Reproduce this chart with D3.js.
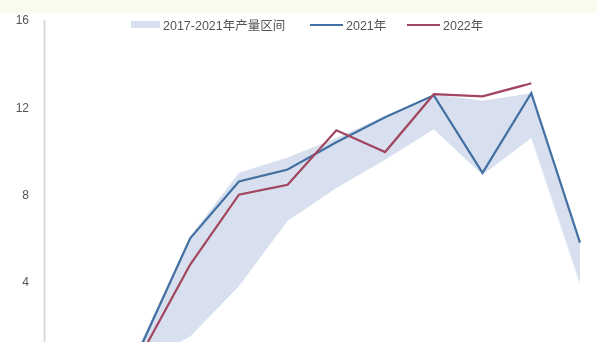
<!DOCTYPE html>
<html>
<head>
<meta charset="utf-8">
<script src="https://cdn.jsdelivr.net/npm/d3@7"></script>
<style>
  html, body { margin: 0; padding: 0; background: #fff; overflow: hidden; }
  svg { display: block; }
</style>
</head>
<body>
<svg id="chart" width="597" height="342"></svg>
<script>
// Months (category axis)
const months = ["1月","2月","3月","4月","5月","6月","7月","8月","9月","10月","11月","12月"];
// 2017-2021 range (min / max)
const rangeLow  = [0.4, 0.2, 0.3, 1.5, 3.8, 6.8, 8.3, 9.6, 11.0, 8.9, 10.6, 3.9];
const rangeHigh = [0.9, 0.6, 1.3, 6.1, 9.0, 9.7, 10.6, 11.6, 12.6, 12.3, 12.65, 5.85];
// Annual series
const y2021 = [0.8, 0.5, 1.1, 6.0, 8.6, 9.15, 10.4, 11.55, 12.55, 9.0, 12.65, 5.8];
const y2022 = [0.6, 0.4, 0.7, 4.8, 8.0, 8.45, 10.95, 9.95, 12.6, 12.5, 13.1];
const yTicks = [4, 8, 12, 16];
const legendLabels = ["2017-2021年产量区间", "2021年", "2022年"];

const svg = d3.select("#chart");
const W = 597;

const colBand = "#d8e0ef";
const col2021 = "#4270a2";
const col2022 = "#a2445e";
const textCol = "#555555";

const x = d3.scalePoint().domain(months).range([44, 580]);
const y = d3.scaleLinear().domain([0, 16]).range([369.3, 20]);

// faint tint along the top edge
svg.append("rect").attr("x", 0).attr("y", 0).attr("width", W).attr("height", 13)
  .attr("fill", "#fafbee");

const defs = svg.append("defs");
defs.append("filter").attr("id", "soft")
  .append("feGaussianBlur").attr("stdDeviation", 0.5);
const g = svg.append("g").attr("filter", "url(#soft)");

// range band
const band = months.map((m, i) => ({ m, lo: rangeLow[i], hi: rangeHigh[i] }));
g.append("path")
  .datum(band)
  .attr("fill", colBand)
  .attr("d", d3.area().x(d => x(d.m)).y0(d => y(d.lo)).y1(d => y(d.hi)));

// y axis
const yAxis = d3.axisLeft(y).tickValues(yTicks).tickSize(0).tickPadding(15).tickFormat(d3.format("d"));
const ya = g.append("g").attr("transform", `translate(${x(months[0])},0)`).call(yAxis);
ya.select(".domain").attr("stroke", "#d9d9d9").attr("stroke-width", 2);
ya.selectAll("text").attr("fill", textCol).style("font-family", "'Liberation Sans', Arial, sans-serif")
  .style("font-size", "12px");

// lines
const line = d3.line().x(d => x(d[0])).y(d => y(d[1]));
g.append("path")
  .datum(y2021.map((v, i) => [months[i], v]))
  .attr("fill", "none").attr("stroke", col2021).attr("stroke-width", 2.2)
  .attr("stroke-linejoin", "miter").attr("d", line);
g.append("path")
  .datum(y2022.map((v, i) => [months[i], v]))
  .attr("fill", "none").attr("stroke", col2022).attr("stroke-width", 2.2)
  .attr("stroke-linejoin", "miter").attr("d", line);

// legend
const lg = g.append("g").style("font-family", "'Liberation Sans', 'Noto Sans CJK SC', sans-serif")
  .style("font-size", "12.5px").attr("fill", textCol);
const ly = 25;
lg.append("rect").attr("x", 131).attr("y", ly - 4).attr("width", 29).attr("height", 7).attr("fill", colBand);
lg.append("text").attr("x", 163).attr("y", ly + 4.5).text(legendLabels[0]);
lg.append("line").attr("x1", 310).attr("x2", 343).attr("y1", ly).attr("y2", ly)
  .attr("stroke", col2021).attr("stroke-width", 2.2);
lg.append("text").attr("x", 346).attr("y", ly + 4.5).text(legendLabels[1]);
lg.append("line").attr("x1", 407).attr("x2", 440).attr("y1", ly).attr("y2", ly)
  .attr("stroke", col2022).attr("stroke-width", 2.2);
lg.append("text").attr("x", 443).attr("y", ly + 4.5).text(legendLabels[2]);
</script>
</body>
</html>
